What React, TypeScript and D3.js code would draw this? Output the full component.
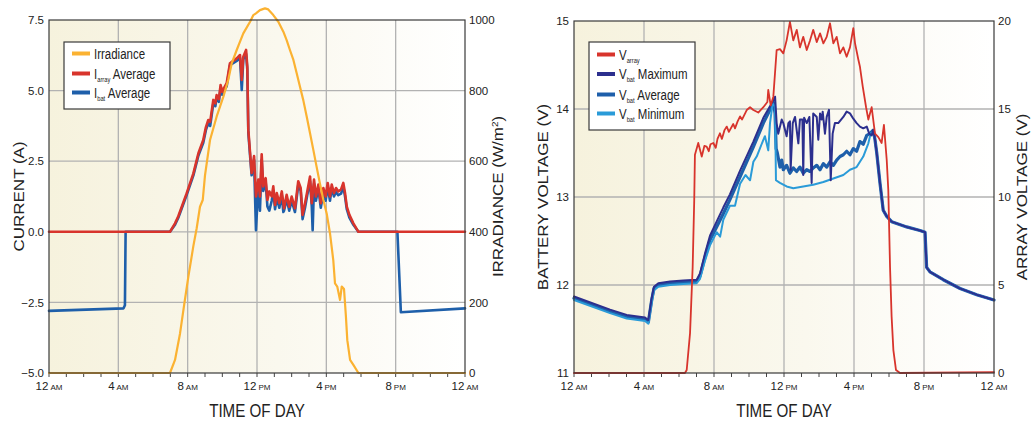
import React from 'react';
import * as d3 from 'd3';

type P = [number, number];

// x axis: hours of the day
const hourTicks = [0, 4, 8, 12, 16, 20, 24];
const hourNums = ['12', '4', '8', '12', '4', '8', '12'];
const hourSuffix = ['AM', 'AM', 'AM', 'PM', 'PM', 'PM', 'AM'];
const minorHours = [0, 1, 2, 3, 4, 5, 6, 7, 8, 9, 10, 11, 12, 13, 14, 15, 16, 17, 18, 19, 20, 21, 22, 23, 24];

const currentTicks = [-5, -2.5, 0, 2.5, 5, 7.5];
const irradianceTicks = [0, 200, 400, 600, 800, 1000];
const batteryTicks = [11, 12, 13, 14, 15];
const arrayTicks = [0, 5, 10, 15, 20];

// left chart, [hour, value]
const irradiance: P[] = [
  [0, 0], [6.98, 0], [7.27, 37], [7.56, 112], [7.81, 197], [8.04, 273], [8.33, 360], [8.52, 410],
  [8.71, 471], [8.87, 490], [9.0, 560], [9.29, 660], [9.67, 726], [10.06, 783], [10.34, 830],
  [10.54, 877], [10.83, 915], [10.98, 934], [11.21, 962], [11.6, 995], [11.79, 1014], [11.94, 1019],
  [12.17, 1028], [12.46, 1033], [12.65, 1030], [12.94, 1014], [13.23, 995], [13.52, 967], [13.71, 943],
  [13.9, 915], [14.1, 887], [14.29, 849], [14.48, 811], [14.67, 773], [14.87, 726], [15.06, 679],
  [15.25, 632], [15.44, 584], [15.63, 537], [15.83, 490], [16.02, 452], [16.21, 396], [16.4, 320],
  [16.5, 254], [16.63, 245], [16.79, 207], [16.89, 245], [17.02, 238], [17.13, 160], [17.21, 93],
  [17.37, 37], [17.56, 23], [17.85, 0], [24, 0],
];

const iArrayAvg: P[] = [
  [0, 0], [6.98, 0], [7.27, 0.3], [7.46, 0.55], [7.94, 1.36], [8.33, 2.07], [8.62, 2.78], [8.9, 3.25],
  [9.05, 3.7], [9.19, 3.96], [9.3, 3.9], [9.48, 4.67], [9.6, 4.55], [9.67, 4.84], [9.8, 4.7], [9.9, 5.2],
  [10.0, 4.95], [10.1, 5.1], [10.25, 5.26], [10.44, 5.97], [10.83, 6.14], [11.02, 6.26], [11.12, 5.38],
  [11.21, 6.2], [11.37, 6.44], [11.44, 5.85], [11.5, 3.6], [11.6, 2.8], [11.69, 2.08], [11.83, 2.68],
  [11.94, 1.25], [12.08, 1.85], [12.17, 1.25], [12.27, 2.74], [12.36, 1.61], [12.5, 1.9], [12.6, 1.13],
  [12.71, 1.43], [12.85, 1.25], [12.94, 1.61], [13.04, 0.95], [13.14, 1.37], [13.29, 1.01], [13.43, 1.43],
  [13.56, 0.83], [13.71, 1.31], [13.86, 0.89], [14.0, 1.25], [14.19, 0.83], [14.38, 1.79], [14.52, 1.55],
  [14.63, 0.6], [14.77, 1.01], [14.9, 1.43], [15.06, 1.96], [15.16, 1.01], [15.29, 1.85], [15.4, 1.25],
  [15.54, 1.67], [15.68, 1.01], [15.83, 1.55], [15.96, 1.25], [16.08, 1.73], [16.21, 1.25], [16.31, 1.67],
  [16.44, 1.37], [16.56, 1.55], [16.69, 1.43], [16.85, 1.5], [16.98, 1.73], [17.08, 1.37], [17.18, 0.89],
  [17.33, 0.6], [17.56, 0.3], [17.85, 0], [24, 0],
];

const iBatAvg: P[] = [
  [0, -2.8], [4.3, -2.71], [4.38, -2.6], [4.42, 0], [6.98, 0], [7.27, 0.25], [7.46, 0.5], [7.94, 1.3],
  [8.33, 2.0], [8.62, 2.7], [8.9, 3.15], [9.05, 3.6], [9.19, 3.85], [9.3, 3.75], [9.48, 4.55], [9.6, 4.45],
  [9.67, 4.75], [9.8, 4.6], [9.9, 5.1], [10.0, 4.85], [10.1, 5.0], [10.25, 5.15], [10.44, 5.9], [10.83, 6.05],
  [11.02, 6.15], [11.12, 5.02], [11.21, 6.1], [11.37, 6.3], [11.44, 5.75], [11.5, 3.5], [11.6, 2.7],
  [11.69, 2.0], [11.83, 2.55], [11.94, 0.06], [12.08, 1.7], [12.17, 0.75], [12.27, 2.55], [12.36, 1.45],
  [12.5, 1.75], [12.6, 0.9], [12.71, 0.75], [12.85, 1.1], [12.94, 1.45], [13.04, 0.8], [13.14, 1.2],
  [13.29, 0.85], [13.43, 1.3], [13.52, 0.7], [13.56, 0.75], [13.71, 1.15], [13.86, 0.75], [14.0, 1.1],
  [14.19, 0.7], [14.38, 1.65], [14.52, 1.45], [14.63, 0.45], [14.77, 0.85], [14.9, 1.3], [15.06, 1.8],
  [15.16, 0.9], [15.21, 0.06], [15.29, 1.7], [15.4, 1.1], [15.54, 1.55], [15.68, 0.85], [15.83, 1.4],
  [15.96, 1.1], [16.08, 1.6], [16.21, 1.1], [16.31, 1.55], [16.44, 1.25], [16.56, 1.4], [16.69, 1.3],
  [16.85, 1.35], [16.98, 1.6], [17.08, 1.25], [17.18, 0.8], [17.33, 0.5], [17.56, 0.25], [17.85, 0],
  [20.1, 0], [20.3, -2.85], [24, -2.71],
];

// right chart, [hour, volts]
const vArray: P[] = [
  [0, 0], [6.34, 0], [6.44, 0.17], [6.63, 2.25], [6.78, 6.0], [6.87, 9.8], [6.91, 12.4], [7.1, 13.07],
  [7.3, 12.3], [7.45, 12.9], [7.58, 12.86], [7.7, 12.6], [7.8, 13.0], [7.96, 13.07], [8.1, 12.8],
  [8.2, 13.3], [8.34, 13.62], [8.45, 13.3], [8.6, 13.8], [8.73, 14.0], [8.85, 13.7], [9.1, 14.15],
  [9.2, 13.9], [9.35, 14.3], [9.49, 14.58], [9.6, 14.4], [9.87, 14.94], [10.06, 15.1], [10.25, 14.94],
  [10.53, 14.8], [10.82, 15.1], [11.05, 15.4], [11.1, 16.08], [11.24, 15.2], [11.39, 15.7], [11.58, 18.35],
  [11.77, 18.4], [11.96, 18.16], [12.15, 18.9], [12.34, 19.95], [12.53, 18.9], [12.73, 19.5], [12.91, 18.5],
  [13.1, 19.1], [13.3, 18.35], [13.49, 18.9], [13.67, 19.5], [13.87, 18.8], [14.06, 19.3], [14.25, 18.73],
  [14.44, 19.1], [14.63, 19.87], [14.82, 18.73], [15.01, 19.1], [15.2, 18.16], [15.39, 18.5], [15.58, 17.97],
  [15.77, 18.5], [15.96, 19.6], [16.06, 18.73], [16.25, 17.8], [16.34, 17.4], [16.5, 16.27], [16.69, 15.1],
  [16.82, 14.4], [17.01, 15.1], [17.2, 13.6], [17.39, 13.4], [17.58, 13.07], [17.71, 14.1], [17.87, 12.1],
  [17.96, 10.4], [18.06, 6.0], [18.15, 3.2], [18.25, 1.3], [18.4, 0.17], [18.63, 0], [24, 0.05],
];

const vBatMax: P[] = [
  [0, 11.87], [2.06, 11.72], [3.01, 11.66], [4.06, 11.63], [4.25, 11.6], [4.44, 11.85], [4.57, 11.98],
  [4.82, 12.02], [5.49, 12.04], [6.25, 12.05], [7.01, 12.06], [7.2, 12.13], [7.49, 12.36], [7.77, 12.56],
  [8.15, 12.72], [8.53, 12.88], [8.91, 13.03], [9.49, 13.3], [10.25, 13.63], [10.82, 13.9], [11.2, 14.03],
  [11.49, 14.14], [11.58, 13.84], [11.67, 13.72], [11.87, 13.88], [11.96, 13.84], [12.15, 13.69],
  [12.25, 13.84], [12.34, 13.86], [12.38, 13.31], [12.5, 13.84], [12.63, 13.91], [12.82, 13.61],
  [12.91, 13.88], [13.05, 13.88], [13.1, 13.25], [13.15, 13.9], [13.3, 13.84], [13.45, 13.91],
  [13.58, 13.16], [13.67, 13.95], [13.87, 13.91], [13.96, 13.65], [14.06, 13.95], [14.15, 13.88],
  [14.21, 13.97], [14.34, 13.72], [14.44, 13.91], [14.57, 13.99], [14.67, 13.19], [14.78, 13.72],
  [14.91, 13.84], [15.1, 13.84], [15.39, 13.91], [15.58, 13.97], [15.77, 13.95], [15.96, 13.89],
  [16.15, 13.84], [16.34, 13.8], [16.53, 13.78], [16.73, 13.8], [16.87, 13.72], [17.01, 13.7],
  [17.1, 13.76], [17.2, 13.65], [17.3, 13.5], [17.49, 13.15], [17.67, 12.85], [17.87, 12.78],
  [18.15, 12.72], [19.01, 12.66], [19.77, 12.62], [20.06, 12.6], [20.15, 12.2], [20.34, 12.15],
  [21.1, 12.06], [22.06, 11.96], [23.01, 11.89], [24, 11.83],
];

const vBatAvg: P[] = [
  [0, 11.85], [2.06, 11.7], [3.01, 11.64], [4.06, 11.61], [4.25, 11.58], [4.44, 11.83], [4.57, 11.96],
  [4.82, 12.0], [5.49, 12.02], [6.25, 12.03], [7.01, 12.04], [7.2, 12.1], [7.49, 12.32], [7.77, 12.51],
  [8.15, 12.66], [8.53, 12.81], [8.91, 12.97], [9.49, 13.23], [10.25, 13.57], [10.82, 13.84], [11.2, 13.99],
  [11.39, 14.08], [11.49, 13.95], [11.55, 13.55], [11.62, 13.5], [11.77, 13.34], [11.87, 13.42],
  [11.96, 13.31], [12.15, 13.36], [12.34, 13.27], [12.53, 13.33], [12.72, 13.29], [12.91, 13.34],
  [13.1, 13.27], [13.3, 13.31], [13.49, 13.29], [13.67, 13.33], [13.87, 13.36], [14.06, 13.31],
  [14.25, 13.38], [14.44, 13.34], [14.63, 13.4], [14.82, 13.36], [15.01, 13.42], [15.2, 13.46],
  [15.39, 13.48], [15.58, 13.52], [15.77, 13.48], [15.96, 13.55], [16.15, 13.52], [16.34, 13.63],
  [16.53, 13.6], [16.73, 13.7], [16.91, 13.72], [17.1, 13.76], [17.2, 13.65], [17.3, 13.5], [17.49, 13.15],
  [17.67, 12.85], [17.87, 12.78], [18.15, 12.72], [19.01, 12.66], [19.77, 12.62], [20.06, 12.6],
  [20.15, 12.2], [20.34, 12.15], [21.1, 12.06], [22.06, 11.96], [23.01, 11.89], [24, 11.83],
];

const vBatMin: P[] = [
  [0, 11.83], [2.06, 11.68], [3.01, 11.62], [4.06, 11.59], [4.25, 11.56], [4.44, 11.8], [4.57, 11.94],
  [4.82, 11.98], [5.49, 12.0], [6.25, 12.01], [7.01, 12.02], [7.2, 12.07], [7.49, 12.28], [7.77, 12.45],
  [8.15, 12.6], [8.35, 12.55], [8.53, 12.74], [8.91, 12.9], [9.2, 12.9], [9.49, 13.15], [9.8, 13.25],
  [10.06, 13.19], [10.25, 13.4], [10.44, 13.46], [10.82, 13.65], [10.91, 13.69], [11.1, 13.53],
  [11.2, 13.84], [11.35, 14.06], [11.49, 14.03], [11.54, 13.19], [11.77, 13.16], [12.15, 13.12],
  [12.53, 13.1], [13.1, 13.12], [13.67, 13.14], [14.25, 13.17], [14.82, 13.21], [15.39, 13.25],
  [15.77, 13.31], [16.15, 13.34], [16.53, 13.46], [16.82, 13.61], [16.95, 13.72], [17.1, 13.74],
  [17.2, 13.65], [17.3, 13.5], [17.49, 13.15], [17.67, 12.85], [17.87, 12.78], [18.15, 12.72],
  [19.01, 12.66], [19.77, 12.62], [20.06, 12.6], [20.15, 12.2], [20.34, 12.15], [21.1, 12.06],
  [22.06, 11.96], [23.01, 11.89], [24, 11.83],
];

const SANS = "'Liberation Sans', Arial, Helvetica, sans-serif";
const SQUEEZE = 0.82; // the original type is condensed horizontally

const RED = '#d8342c';
const BLUE = '#1e5faa';
const YELLOW = '#fbb232';
const NAVY = '#2c2f8e';
const LIGHT = '#2a9bd8';

type Series = { data: P[]; side: 'left' | 'right'; color: string; width: number };
type LegendItem = { color: string; main: string; sub?: string; rest?: string };

function Panel(props: any) {
  const { box, leftDomain, leftTicks, leftFmt, rightDomain, rightTicks, rightFmt,
    leftTitle, rightTitle, series, legend, gradId } = props;
  const x = d3.scaleLinear().domain([0, 24]).range([box.x0, box.x1]);
  const yL = d3.scaleLinear().domain(leftDomain).range([box.y1, box.y0]);
  const yR = d3.scaleLinear().domain(rightDomain).range([box.y1, box.y0]);
  const cy = (box.y0 + box.y1) / 2;

  return (
    <g>
      <defs>
        <linearGradient id={gradId} x1="0" x2="1" y1="0" y2="0">
          <stop offset="0%" stopColor="#f6f2dd" />
          <stop offset="55%" stopColor="#faf8ee" />
          <stop offset="100%" stopColor="#ffffff" />
        </linearGradient>
      </defs>
      <rect x={box.x0} y={box.y0} width={box.x1 - box.x0} height={box.y1 - box.y0} fill={`url(#${gradId})`} />

      {/* grid */}
      {hourTicks.slice(1, -1).map(h => (
        <line key={'gx' + h} x1={x(h)} x2={x(h)} y1={box.y0} y2={box.y1} stroke="#b2b2b2" strokeWidth={1.3} />
      ))}
      {leftTicks.slice(1, -1).map((t: number) => (
        <line key={'gy' + t} x1={box.x0} x2={box.x1} y1={yL(t)} y2={yL(t)} stroke="#b2b2b2" strokeWidth={1.3} />
      ))}

      {/* minor ticks */}
      {minorHours.map(h => (
        <line key={'mt' + h} x1={x(h)} x2={x(h)} y1={box.y1} y2={box.y1 + 4} stroke="#444" strokeWidth={1} />
      ))}

      {/* series */}
      {series.map((s: Series, i: number) => {
        const y = s.side === 'left' ? yL : yR;
        const line = d3.line<P>().x(d => x(d[0])).y(d => y(d[1]));
        return <path key={'s' + i} d={line(s.data) || ''} fill="none" stroke={s.color}
          strokeWidth={s.width} strokeLinejoin="round" strokeLinecap="round" />;
      })}

      {/* frame */}
      <rect x={box.x0} y={box.y0} width={box.x1 - box.x0} height={box.y1 - box.y0} fill="none" stroke="#3a3a3a" strokeWidth={1.2} />

      {/* x tick labels */}
      {hourTicks.map((h, i) => (
        <text key={'xl' + h} x={x(h)} y={box.y1 + 17} textAnchor="middle" fontFamily={SANS} fill="#222">
          <tspan fontSize={11.5}>{hourNums[i]}</tspan>
          <tspan fontSize={8} dx={2}>{hourSuffix[i]}</tspan>
        </text>
      ))}

      {/* y tick labels */}
      {leftTicks.map((t: number) => (
        <text key={'yl' + t} x={box.x0 - 5} y={yL(t)} dy="0.36em" textAnchor="end" fontFamily={SANS} fontSize={11.5} fill="#222">
          {leftFmt(t)}
        </text>
      ))}
      {rightTicks.map((t: number) => (
        <text key={'yr' + t} x={box.x1 + 4} y={yR(t)} dy="0.36em" textAnchor="start" fontFamily={SANS} fontSize={11.5} fill="#222">
          {rightFmt(t)}
        </text>
      ))}

      {/* titles */}
      <text transform={`translate(${(box.x0 + box.x1) / 2},417) scale(${SQUEEZE},1)`} textAnchor="middle"
        fontFamily={SANS} fontSize={18.5} fill="#222">TIME OF DAY</text>
      <text transform={`translate(${props.leftTitleX},${cy}) rotate(-90) scale(1,0.88)`} textAnchor="middle" dy="0.36em"
        fontFamily={SANS} fontSize={17} fill="#222">{leftTitle}</text>
      <text transform={`translate(${props.rightTitleX},${cy}) rotate(-90) scale(1,0.88)`} textAnchor="middle" dy="0.36em"
        fontFamily={SANS} fontSize={17} fill="#222">{rightTitle}</text>

      {/* legend */}
      <rect x={legend.x} y={legend.y} width={legend.w} height={legend.h} fill="#fff" stroke="#3a3a3a" strokeWidth={1.2} />
      {legend.items.map((it: LegendItem, i: number) => {
        const ry = legend.rows[i];
        return (
          <g key={'lg' + i}>
            <line x1={legend.lx0} x2={legend.lx1} y1={ry} y2={ry} stroke={it.color} strokeWidth={4} />
            <text transform={`translate(${legend.tx},${ry + 5}) scale(${SQUEEZE},1)`} fontFamily={SANS} fontSize={14} fill="#222">
              {it.main}
              {it.sub ? <tspan fontSize={7} dy={3}>{it.sub}</tspan> : null}
              {it.rest ? <tspan dy={it.sub ? -3 : 0}>{it.rest}</tspan> : null}
            </text>
          </g>
        );
      })}
    </g>
  );
}

export default function App() {
  const f1 = d3.format('.1f');
  const f0 = d3.format('d');
  return (
    <svg width={1031} height={423} style={{ position: 'absolute', left: 0, top: 0, background: '#fff' }}>
      <rect width={1031} height={423} fill="#fff" />
      <Panel
        gradId="bgL"
        box={{ x0: 49, x1: 465, y0: 20, y1: 373 }}
        leftDomain={[-5, 7.5]} leftTicks={currentTicks} leftFmt={f1}
        rightDomain={[0, 1000]} rightTicks={irradianceTicks} rightFmt={f0}
        leftTitle="CURRENT (A)"
        rightTitle={<>IRRADIANCE (W/m<tspan fontSize={10} dy={-6}>2</tspan><tspan dy={6}>)</tspan></>}
        leftTitleX={19} rightTitleX={498}
        series={[
          { data: iBatAvg, side: 'left', color: BLUE, width: 2.6 },
          { data: iArrayAvg, side: 'left', color: RED, width: 2.6 },
          { data: irradiance, side: 'right', color: YELLOW, width: 2.2 },
        ]}
        legend={{
          x: 64, y: 42, w: 106, h: 67, lx0: 72, lx1: 90, tx: 94, rows: [53.5, 73.5, 92.5],
          items: [
            { color: YELLOW, main: 'Irradiance' },
            { color: RED, main: 'I', sub: 'array', rest: ' Average' },
            { color: BLUE, main: 'I', sub: 'bat', rest: ' Average' },
          ],
        }}
      />
      <Panel
        gradId="bgR"
        box={{ x0: 574, x1: 994, y0: 21, y1: 373 }}
        leftDomain={[11, 15]} leftTicks={batteryTicks} leftFmt={f0}
        rightDomain={[0, 20]} rightTicks={arrayTicks} rightFmt={f0}
        leftTitle="BATTERY VOLTAGE (V)"
        rightTitle="ARRAY VOLTAGE (V)"
        leftTitleX={543} rightTitleX={1022}
        series={[
          { data: vBatAvg, side: 'left', color: BLUE, width: 3.2 },
          { data: vBatMin, side: 'left', color: LIGHT, width: 2 },
          { data: vBatMax, side: 'left', color: NAVY, width: 2 },
          { data: vArray, side: 'right', color: RED, width: 1.8 },
        ]}
        legend={{
          x: 589, y: 42, w: 106, h: 88, lx0: 597, lx1: 615, tx: 619, rows: [54.5, 74, 94.5, 113.5],
          items: [
            { color: RED, main: 'V', sub: 'array' },
            { color: NAVY, main: 'V', sub: 'bat', rest: ' Maximum' },
            { color: BLUE, main: 'V', sub: 'bat', rest: ' Average' },
            { color: LIGHT, main: 'V', sub: 'bat', rest: ' Minimum' },
          ],
        }}
      />
    </svg>
  );
}
